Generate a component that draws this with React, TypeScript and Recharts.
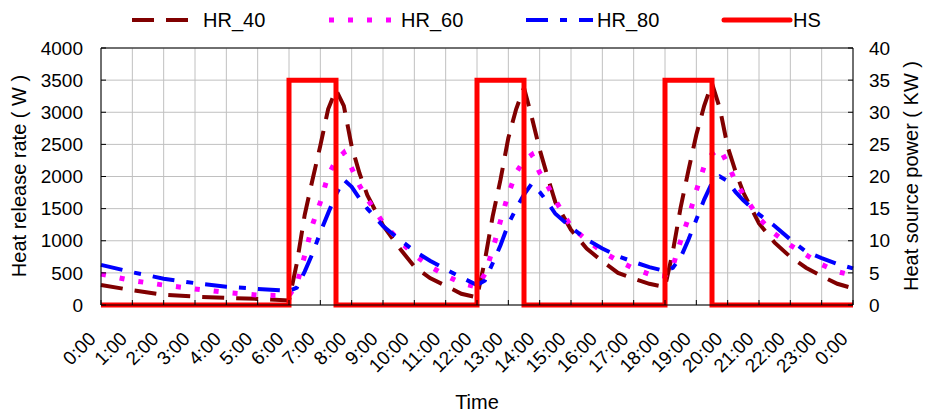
import React from 'react';
import {
  LineChart,
  Line,
  XAxis,
  YAxis,
  CartesianGrid,
  Legend,
  ReferenceLine,
  Label,
} from 'recharts';

// time of day in hours
const times = [
  0, 1, 2, 3, 4, 5, 6, 6.25, 6.5, 6.75, 7, 7.25, 7.5, 7.75, 8, 8.25, 8.5, 9, 9.5, 10, 10.5, 11, 11.5, 12,
  12.25, 12.5, 12.75, 13, 13.25, 13.5, 13.75, 14, 14.25, 14.5, 15, 15.5, 16, 16.5, 17, 17.5, 18,
  18.25, 18.5, 18.75, 19, 19.25, 19.5, 19.75, 20, 20.25, 20.5, 21, 21.5, 22, 22.5, 23, 23.5, 24,
];

const hr40 = [
  310, 230, 160, 130, 110, 95, 70, 650, 1400, 1950, 2480, 3050, 3350, 3100, 2470, 2050, 1710, 1240, 900, 600, 420, 300, 175, 120,
  690, 1380, 1950, 2600, 3050, 3380, 2920, 2420, 2000, 1600, 1170, 880, 680, 500, 410, 330, 280,
  830, 1520, 2100, 2650, 3100, 3450, 3060, 2460, 2080, 1750, 1270, 970, 750, 580, 450, 330, 260,
];

const hr60 = [
  480, 380, 310, 250, 195, 155, 145, 320, 770, 1250, 1600, 2020, 2250, 2370, 2130, 1860, 1650, 1280, 1010, 780, 600, 460, 340, 280,
  480, 860, 1310, 1730, 2060, 2250, 2340, 2060, 1860, 1630, 1220, 1010, 830, 690, 570, 480, 450,
  600, 1000, 1360, 1780, 2160, 2350, 2440, 2190, 1930, 1720, 1350, 1110, 930, 780, 630, 520, 460,
];

const hr80 = [
  625, 510, 410, 340, 285, 250, 220, 270, 520, 800, 1130, 1430, 1720, 1950, 1840, 1660, 1500, 1230, 1030, 840, 690, 555, 430, 310,
  380, 650, 930, 1260, 1500, 1720, 1890, 1760, 1600, 1420, 1210, 1020, 880, 760, 670, 590, 530,
  580, 740, 1020, 1330, 1640, 1900, 2000, 1930, 1760, 1630, 1410, 1230, 1020, 830, 730, 640, 570,
];

// heat source on/off (KW)
const hsTimes = [0, 6, 6, 7.5, 7.5, 12, 12, 13.5, 13.5, 18, 18, 19.5, 19.5, 24];
const hsPower = [0, 0, 35, 35, 0, 0, 35, 35, 0, 0, 35, 35, 0, 0];

const hourTicks = Array.from({ length: 25 }, (_, i) => i);
const leftTicks = [0, 500, 1000, 1500, 2000, 2500, 3000, 3500, 4000];
const rightTicks = [0, 5, 10, 15, 20, 25, 30, 35, 40];

const hrData = times.map((t, i) => ({ t, hr40: hr40[i], hr60: hr60[i], hr80: hr80[i] }));
const hsData = hsTimes.map((t, i) => ({ t, hs: hsPower[i] }));

const FONT = '"Liberation Sans", Arial, sans-serif';

const legendItems = [
  { name: 'HR_40', color: '#800000', dash: '22 12', width: 4, x1: 132, x2: 190, tx: 203 },
  { name: 'HR_60', color: '#ff00ff', dash: '5 14', width: 5, x1: 329, x2: 394, tx: 401 },
  { name: 'HR_80', color: '#0000ff', dash: '22 12 7 12', width: 4, x1: 526, x2: 593, tx: 597 },
  { name: 'HS', color: '#ff0000', dash: undefined, width: 5, x1: 724, x2: 790, tx: 793 },
];

const ChartLegend = () => (
  <svg width={925} height={40} style={{ display: 'block' }}>
    {legendItems.map((it) => (
      <g key={it.name}>
        <line
          x1={it.x1}
          x2={it.x2}
          y1={20}
          y2={20}
          stroke={it.color}
          strokeWidth={it.width}
          strokeDasharray={it.dash}
          strokeLinecap={it.dash ? 'butt' : 'round'}
        />
        <text x={it.tx} y={20} dy="0.36em" fontSize={20} fill="#000" fontFamily={FONT}>
          {it.name}
        </text>
      </g>
    ))}
  </svg>
);

const TimeTick = ({ x, payload }: { x?: number; payload?: { value: number } }) => {
  if (x == null || !payload) return null;
  const px = x - 4;
  const py = 340;
  return (
    <text
      x={px}
      y={py}
      textAnchor="end"
      transform={`rotate(-45, ${px}, ${py})`}
      fontSize={19}
      fill="#000"
      fontFamily={FONT}
    >
      {`${payload.value % 24}:00`}
    </text>
  );
};

export default function App() {
  return (
    <div style={{ position: 'absolute', left: 0, top: 0, width: 925, height: 414, background: '#fff' }}>
      <LineChart
        width={925}
        height={414}
        data={hrData}
        margin={{ top: 48, right: 0, bottom: 0, left: 0 }}
        style={{ fontFamily: FONT }}
      >
        <CartesianGrid stroke="#c0c0c0" strokeWidth={1} yAxisId="left" />
        <XAxis
          dataKey="t"
          type="number"
          domain={[0, 24]}
          ticks={hourTicks}
          interval={0}
          height={109}
          axisLine={{ stroke: '#000' }}
          tickLine={{ stroke: '#000' }}
          tickSize={-5}
          tick={<TimeTick />}
        >
          <Label
            content={() => (
              <text x={477} y={402} textAnchor="middle" dy="0.36em" fontSize={20} fill="#000" fontFamily={FONT}>
                Time
              </text>
            )}
          />
        </XAxis>
        <YAxis
          yAxisId="left"
          domain={[0, 4000]}
          ticks={leftTicks}
          interval={0}
          width={101}
          axisLine={{ stroke: '#000' }}
          tickLine={{ stroke: '#000' }}
          tickSize={-5}
          tickMargin={23}
          tick={{ fontSize: 19, fill: '#000', fontFamily: FONT }}
        >
          <Label
            content={() => (
              <text
                x={19}
                y={176}
                transform="rotate(-90, 19, 176)"
                textAnchor="middle"
                dy="0.36em"
                fontSize={20}
                fill="#000"
                fontFamily={FONT}
              >
                Heat release rate ( W )
              </text>
            )}
          />
        </YAxis>
        <YAxis
          yAxisId="right"
          orientation="right"
          domain={[0, 40]}
          ticks={rightTicks}
          interval={0}
          width={72}
          axisLine={{ stroke: '#000' }}
          tickLine={{ stroke: '#000' }}
          tickSize={-5}
          tickMargin={21}
          tick={{ fontSize: 19, fill: '#000', fontFamily: FONT, textAnchor: 'start' }}
        >
          <Label
            content={() => (
              <text
                x={911}
                y={176}
                transform="rotate(-90, 911, 176)"
                textAnchor="middle"
                dy="0.36em"
                fontSize={20}
                fill="#000"
                fontFamily={FONT}
              >
                Heat source power ( KW )
              </text>
            )}
          />
        </YAxis>
        <ReferenceLine yAxisId="left" y={4000} stroke="#000" strokeWidth={1} />
        <Legend
          verticalAlign="middle"
          align="center"
          content={<ChartLegend />}
          wrapperStyle={{ top: 0, left: 0, width: 925, height: 40 }}
        />
        <Line
          yAxisId="left"
          type="linear"
          dataKey="hr40"
          name="HR_40"
          stroke="#800000"
          strokeWidth={4}
          strokeDasharray="22 12"
          dot={false}
          activeDot={false}
          isAnimationActive={false}
        />
        <Line
          yAxisId="left"
          type="linear"
          dataKey="hr60"
          name="HR_60"
          stroke="#ff00ff"
          strokeWidth={5}
          strokeDasharray="5 14"
          dot={false}
          activeDot={false}
          isAnimationActive={false}
        />
        <Line
          yAxisId="left"
          type="linear"
          dataKey="hr80"
          name="HR_80"
          stroke="#0000ff"
          strokeWidth={4}
          strokeDasharray="22 12 7 12"
          dot={false}
          activeDot={false}
          isAnimationActive={false}
        />
        <Line
          yAxisId="right"
          data={hsData}
          type="linear"
          dataKey="hs"
          name="HS"
          stroke="#ff0000"
          strokeWidth={5}
          dot={false}
          activeDot={false}
          isAnimationActive={false}
        />
      </LineChart>
    </div>
  );
}
